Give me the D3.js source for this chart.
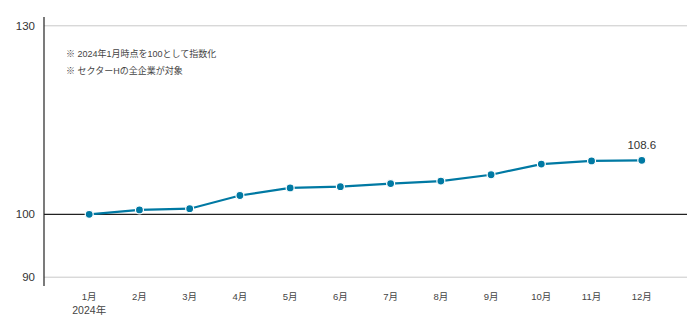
<!DOCTYPE html>
<html><head><meta charset="utf-8">
<script src="https://cdn.jsdelivr.net/npm/d3@7"></script>
<style>body{margin:0;background:#fff;} text{font-family:"Liberation Sans","Noto Sans CJK JP",sans-serif;}</style>
</head><body><svg id="c" width="700" height="326"></svg>
<script>
const months = ["1月","2月","3月","4月","5月","6月","7月","8月","9月","10月","11月","12月"];
const values = [100.0,100.7,100.9,103.0,104.2,104.4,104.9,105.3,106.3,108.0,108.5,108.6];
const yTicks = [90,100,130];
const notes = ["※ 2024年1月時点を100として指数化","※ セクターHの全企業が対象"];
const yearLabel = "2024年";

(function(){
const svg = d3.select("#c");
const mLeft=44, mRight=687, mTop=17, mBottom=286;
const x = d3.scalePoint().domain(months).range([mLeft,mRight]).padding(0.9);
const y = d3.scaleLinear().domain([88.6,131.4]).range([mBottom,mTop]);
const color = "#0079a3";

svg.append("g").selectAll("line").data(yTicks).join("line")
  .attr("x1",mLeft).attr("x2",mRight)
  .attr("y1",d=>y(d)).attr("y2",d=>y(d))
  .attr("stroke",d=>d===100?"#222":"#c8c8c8").attr("stroke-width",d=>d===100?1.2:1);
svg.append("line").attr("x1",mLeft).attr("x2",mLeft).attr("y1",mTop).attr("y2",mBottom)
  .attr("stroke","#222").attr("stroke-width",1.2);
svg.append("g").selectAll("text").data(yTicks).join("text")
  .attr("x",35).attr("y",d=>y(d)).attr("dy","0.35em").attr("text-anchor","end")
  .attr("font-size",11.5).attr("fill","#333").text(d=>d);
svg.append("g").selectAll("text").data(months).join("text")
  .attr("x",d=>x(d)).attr("y",300).attr("text-anchor","middle")
  .attr("font-size",9.5).attr("fill","#444").text(d=>d);
svg.append("text").attr("x",x(months[0])).attr("y",314).attr("text-anchor","middle")
  .attr("font-size",10.5).attr("fill","#444").text(yearLabel);
svg.append("g").selectAll("text").data(notes).join("text")
  .attr("x",66).attr("y",(d,i)=>57+i*17).attr("font-size",9).attr("fill","#444").text(d=>d);
svg.append("path").datum(values)
  .attr("d",d3.line().x((d,i)=>x(months[i])).y(d=>y(d)))
  .attr("fill","none").attr("stroke",color).attr("stroke-width",2.2);
svg.append("g").selectAll("circle").data(values).join("circle")
  .attr("cx",(d,i)=>x(months[i])).attr("cy",d=>y(d)).attr("r",4)
  .attr("fill",color).attr("stroke","#fff").attr("stroke-width",1.2);
const last = values.length-1;
svg.append("text").attr("x",x(months[last])).attr("y",y(values[last])-11)
  .attr("text-anchor","middle").attr("font-size",11.5).attr("fill","#333").text(values[last].toFixed(1));
})();
</script></body></html>
